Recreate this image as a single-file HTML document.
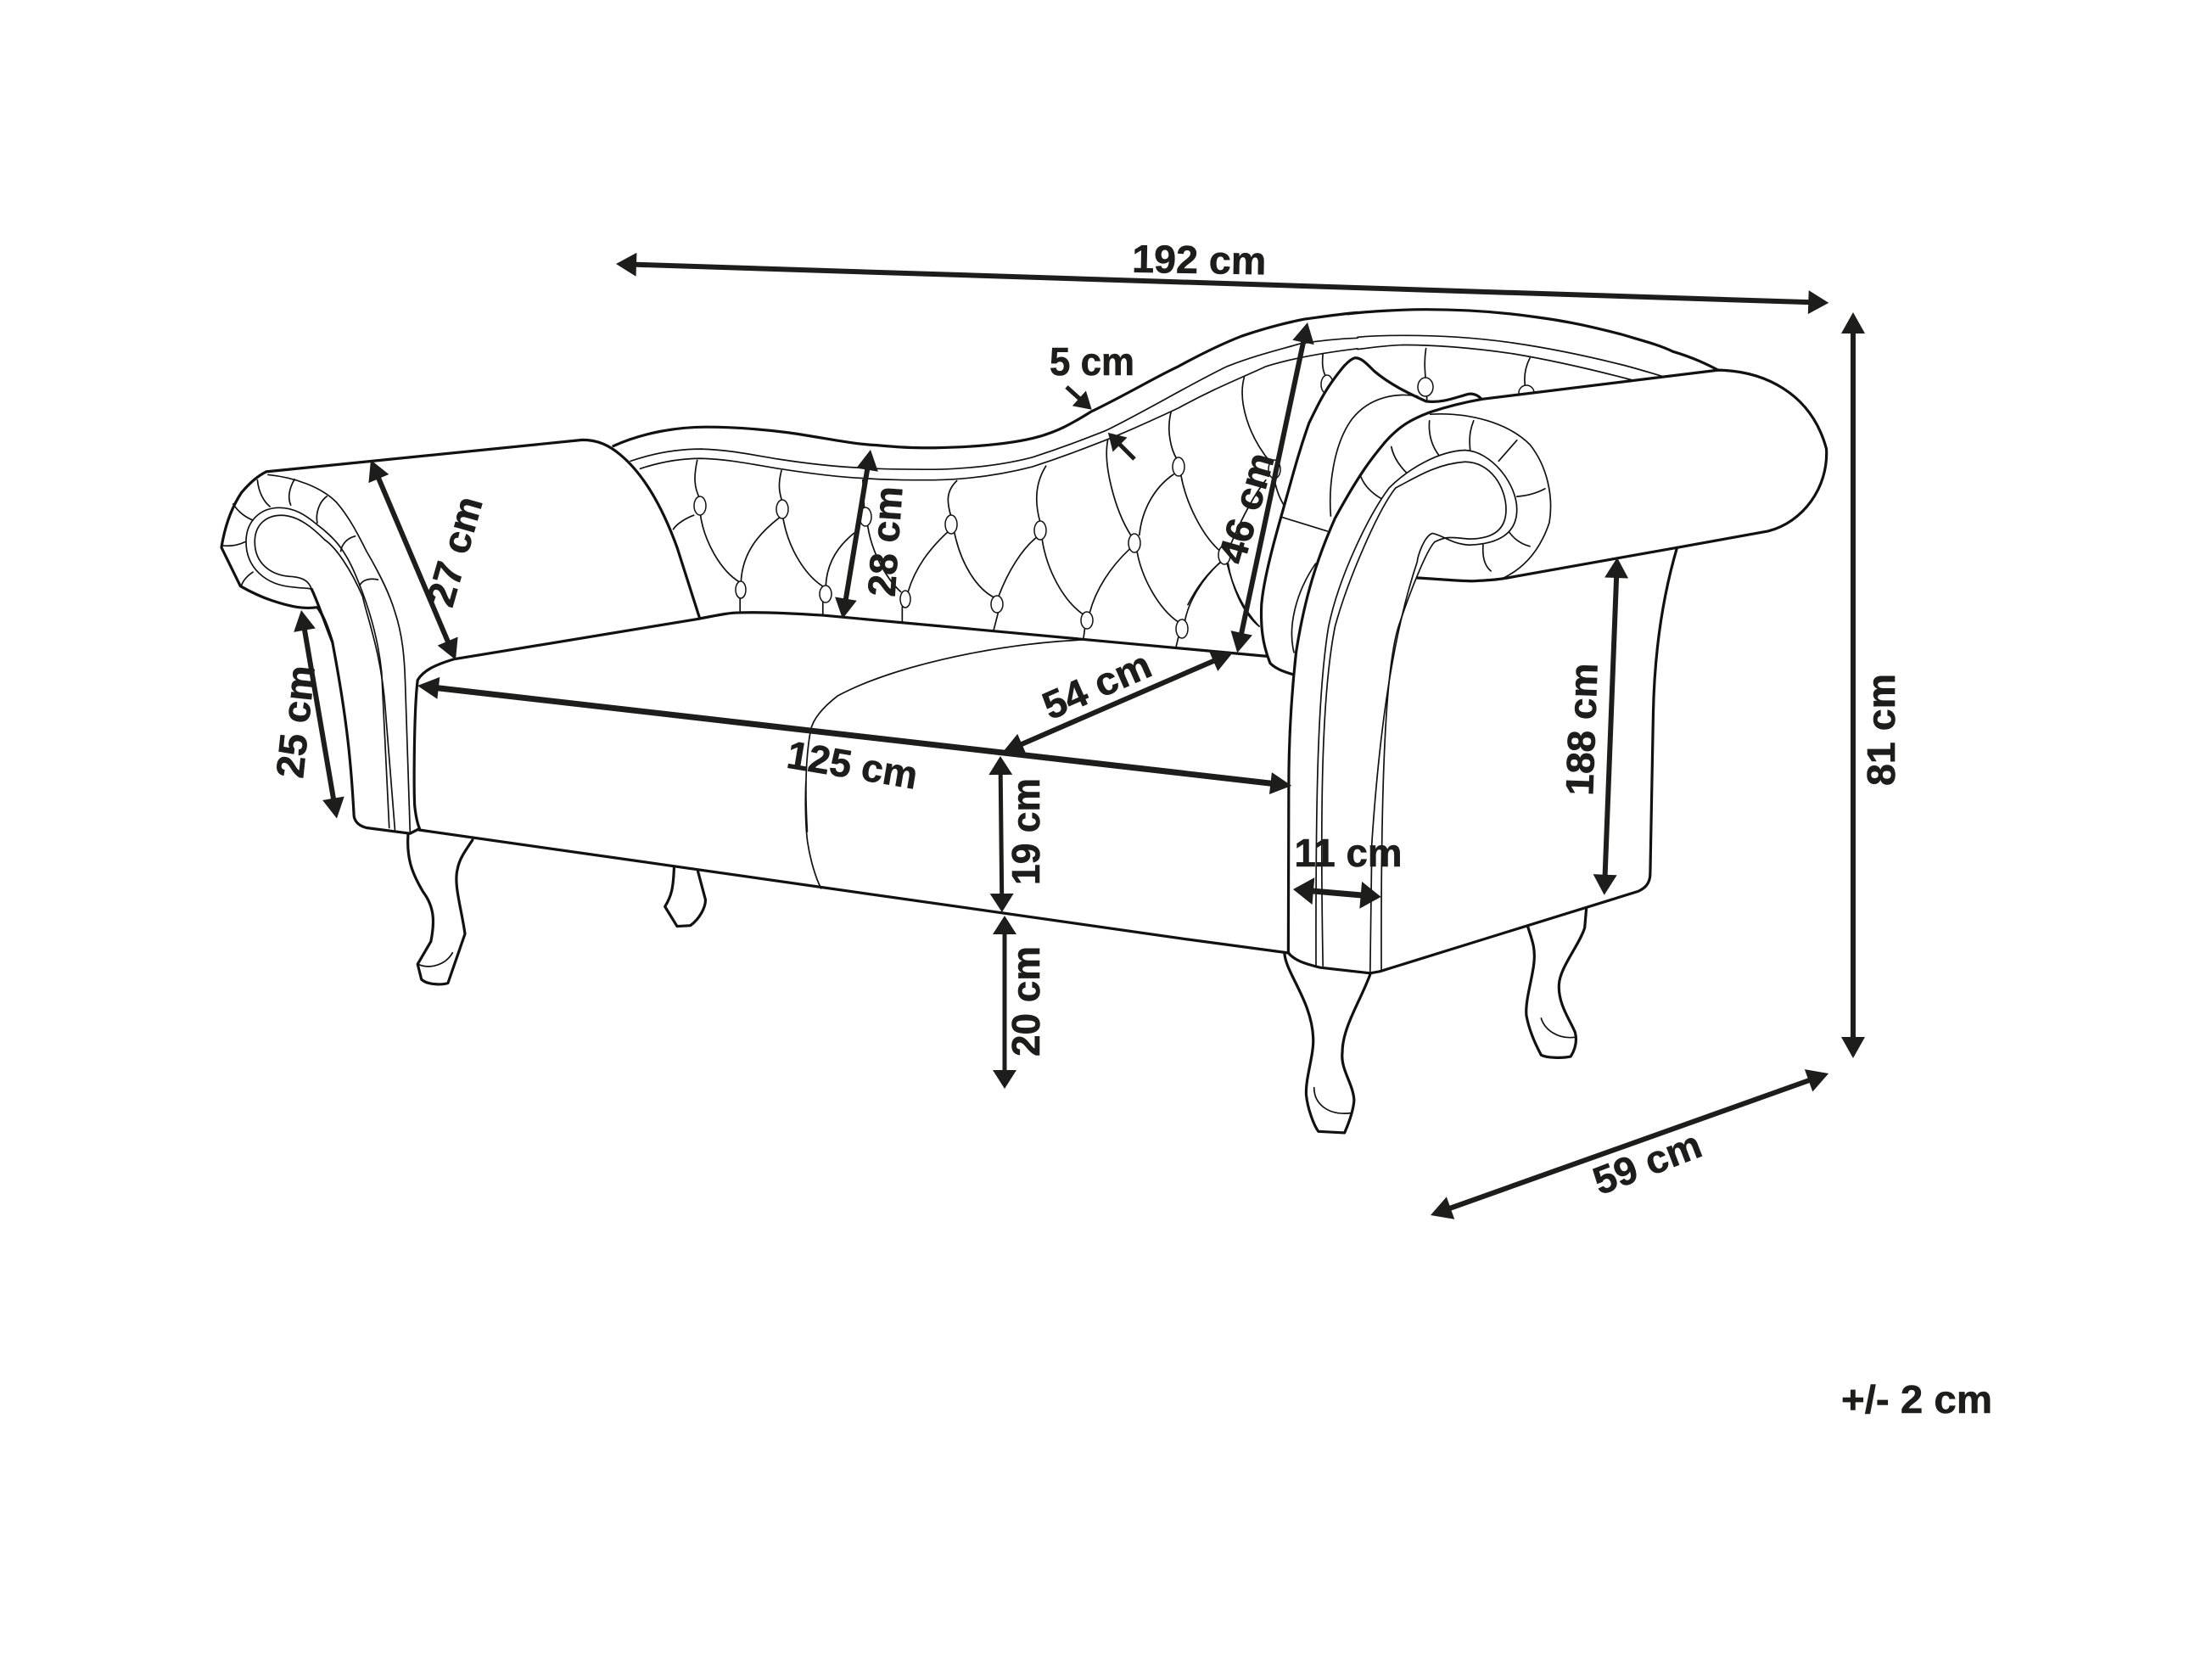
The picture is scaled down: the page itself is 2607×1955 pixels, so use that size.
<!DOCTYPE html>
<html><head><meta charset="utf-8"><style>
html,body{margin:0;padding:0;background:#fff}
svg{display:block}
path,ellipse{vector-effect:non-scaling-stroke;stroke-linejoin:round;stroke-linecap:round}
.m{fill:none;stroke:#111;stroke-width:3.2}
.w{fill:#fff;stroke:#111;stroke-width:3.2}
.t{fill:none;stroke:#111;stroke-width:1.7}
.a{fill:#1d1d1b;stroke:none}
text{font-family:"Liberation Sans",sans-serif;font-weight:700;font-size:46px;fill:#1d1d1b;stroke:#1d1d1b;stroke-width:.6;text-anchor:middle}
</style></head><body>
<svg width="2607" height="1955" viewBox="0 0 2607 1955" xmlns="http://www.w3.org/2000/svg">
<rect width="2607" height="1955" fill="#fff"/>

<!-- legs -->
<g transform="translate(240,480) scale(.4464)">
<path class="w" d="M540 1125C535 1190 550 1230 580 1280C610 1320 610 1360 600 1410L565 1470L575 1510C590 1525 630 1525 645 1520L690 1390C680 1320 660 1260 670 1220C675 1190 695 1165 710 1142"/>
<path class="t" d="M565 1470C600 1485 640 1470 657 1440"/>
<path class="w" d="M1242 1215C1240 1270 1235 1290 1218 1318L1250 1370L1285 1368C1310 1350 1325 1320 1325 1300L1305 1225"/>
</g>
<g transform="translate(1400,950) scale(.5128,.3333)">
<path class="w" d="M222 520C225 590 285 690 288 820C290 880 270 960 272 1020C275 1070 290 1130 300 1150L360 1155C370 1120 380 1080 382 1040C380 980 350 930 355 870C355 780 400 680 420 590"/>
<path class="t" d="M290 995C290 1050 320 1095 375 1085"/>
<path class="w" d="M780 420C790 470 800 500 795 560C790 620 775 690 778 740C785 800 805 860 812 880C825 890 860 892 880 885C890 860 895 830 890 800C880 760 850 700 853 630C855 570 900 490 912 430L916 358"/>
<path class="t" d="M812 750C820 790 850 825 890 817"/>
</g>

<!-- back -->
<g transform="translate(700,280) scale(.574,.4464)">
<path class="m" d="M40 550C100 515 170 500 230 500C290 500 340 505 400 515C480 530 530 545 580 548C640 555 660 555 700 555C780 553 850 545 900 530C950 515 985 488 1020 460C1100 410 1150 370 1200 340C1250 305 1290 280 1330 260C1380 238 1420 225 1460 215C1500 208 1530 202 1568 198"/>
<path class="t" d="M75 590C120 570 170 558 220 558C280 560 330 575 380 585C440 597 500 605 550 608C600 612 650 612 700 612C770 610 840 600 900 580C960 555 1000 535 1050 510C1130 460 1220 390 1300 340C1360 310 1410 295 1450 280C1490 272 1530 267 1568 265"/>
<path class="t" d="M95 610C130 595 170 583 220 583C280 585 330 600 380 610C440 622 500 632 550 635C600 640 650 640 700 640C770 638 840 625 900 605C960 580 1000 560 1050 535C1100 510 1150 480 1200 450C1270 400 1330 370 1380 340C1430 320 1490 305 1568 293"/>
<path class="t" d="M212 588C205 630 205 660 218 690M218 726C225 800 260 880 300 910M205 733C190 740 170 755 163 770M385 615C378 650 380 670 386 695M388 738C400 830 440 900 476 925M380 740C340 780 305 830 302 908M300 952L300 988M470 960L470 995M476 920C478 860 500 810 545 770M555 715L552 640M562 760C570 830 600 900 630 935M633 975L633 1018M645 935C660 870 690 820 728 775M745 642C722 670 725 700 733 735M740 778C755 870 790 930 822 950M830 990L820 1040M830 950C850 880 880 820 910 790M928 603C905 650 905 700 916 750M920 795C930 880 965 960 1005 995M1008 1030L1005 1060M1018 990C1030 930 1060 870 1100 822M1055 535C1045 600 1070 720 1102 785M1115 828C1125 900 1160 980 1200 1015M1120 785C1125 720 1150 660 1190 625M1185 460C1175 510 1185 560 1197 585M1205 625C1215 700 1250 790 1288 830M1285 858C1250 900 1220 960 1213 1015M1300 860C1315 940 1340 990 1365 1025M1200 1055L1195 1082"/>
<path class="m" d="M220 1005C260 995 280 990 300 990C350 988 420 993 470 997L1000 1060L1380 1105"/>
<path class="t" d="M1000 1062C800 1075 600 1140 500 1210C470 1240 450 1270 445 1300C435 1370 433 1450 438 1568"/>
</g>
<g transform="translate(400,780) scale(.6378,.3534)">
<path class="t" d="M862 400C860 480 862 560 865 600C870 660 880 720 890 755"/>
</g>
<g transform="translate(1400,330) scale(.5102)">
<path class="m" d="M370 78C420 72 500 68 550 68C640 68 730 75 800 85C880 95 940 110 1000 125C1050 140 1090 150 1120 165C1170 180 1200 195 1225 208"/>
<path class="t" d="M392 132C430 128 470 128 500 128C590 128 680 135 750 145C840 158 920 175 1000 195C1040 205 1070 215 1095 222"/>
<path class="t" d="M392 160C430 155 470 150 500 150C590 150 680 160 750 170C840 185 940 208 1030 232"/>
<path class="t" d="M130 225C115 280 140 360 190 420M200 460C205 490 215 510 225 525M180 462C150 500 120 560 95 620M78 650C40 680 15 720 0 750M93 655C100 700 125 770 165 800M312 170C310 190 310 210 320 225M550 158C545 190 548 210 549 228M552 267L552 280M790 180C780 200 775 225 780 250"/>
</g>
<g fill="#fff" stroke="#111" stroke-width="1.5">
<ellipse cx="825" cy="596" rx="7" ry="11"/><ellipse cx="922" cy="600" rx="7" ry="11"/><ellipse cx="1020" cy="609" rx="7" ry="11"/><ellipse cx="1121" cy="618" rx="7" ry="11"/><ellipse cx="1226" cy="625" rx="7" ry="11"/><ellipse cx="1389" cy="550" rx="7" ry="11"/><ellipse cx="1337" cy="640" rx="7" ry="11"/><ellipse cx="1502" cy="553" rx="7" ry="11"/><ellipse cx="1443" cy="654" rx="7" ry="11"/><ellipse cx="1564" cy="453" rx="7" ry="11"/><ellipse cx="873" cy="695" rx="6" ry="10"/><ellipse cx="973" cy="700" rx="7" ry="10"/><ellipse cx="1067" cy="706" rx="6" ry="10"/><ellipse cx="1175" cy="712" rx="7" ry="10"/><ellipse cx="1281" cy="731" rx="7" ry="10"/><ellipse cx="1393" cy="741" rx="7" ry="11"/><ellipse cx="1680" cy="456" rx="9" ry="11"/><ellipse cx="1799" cy="463" rx="9" ry="9"/>
</g>

<!-- pillow + right arm -->
<g transform="translate(1400,330) scale(.5102)">
<path class="w" d="M680 278C675 270 665 262 650 263C620 270 590 285 550 280C510 262 465 240 430 210C415 195 400 178 385 180C370 185 355 205 340 225C310 265 295 300 280 330C255 400 240 460 220 530C200 600 175 690 170 750C168 800 172 840 190 885C205 900 225 905 245 912"/>
<path class="t" d="M530 268C480 260 420 270 380 320C335 380 325 480 330 545M218 548L322 580M295 655C250 720 230 800 245 860"/>
<path class="w" d="M1225 208C1330 210 1440 260 1475 390C1480 480 1420 560 1340 580L1130 618C1100 720 1078 850 1075 1000L1068 1370C1068 1395 1055 1405 1040 1412L443 1597L421 1601L306 1588C265 1578 245 1570 232 1554L233 1170C233 1050 240 950 250 860C270 730 300 640 340 550C400 440 430 405 455 375C490 335 520 320 560 305C600 292 640 282 680 275Z"/>
<path class="m" d="M530 688C600 692 650 697 665 695C700 693 720 692 760 684L1130 618"/>
<path class="t" d="M560 310C650 305 740 330 790 380C830 430 845 500 835 560C815 620 780 665 725 690"/>
<path class="t" d="M640 393C700 395 760 470 760 530C760 590 710 610 650 612C610 610 590 590 565 585C545 592 530 640 530 650C480 800 445 1000 425 1300L421 1600"/>
<path class="t" d="M640 393C580 395 510 435 465 480C420 540 350 680 325 800C300 950 295 1200 296 1584"/>
<path class="t" d="M640 420C700 420 735 480 735 530C735 580 700 598 650 598C610 595 600 590 570 605C550 625 510 730 490 790C460 870 445 1100 447 1597"/>
<path class="t" d="M640 420C570 425 520 460 480 480C440 530 370 690 340 800C310 950 305 1200 312 1584"/>
<path class="t" d="M400 455C410 480 430 495 447 505M470 385C475 410 490 430 505 445M558 325C555 360 565 385 580 405M660 325C650 350 650 370 652 393M760 370L718 418M825 482C810 490 790 498 760 500M790 615C770 610 755 600 742 582M682 612C680 640 685 660 700 672"/>
</g>

<!-- left arm + rail -->
<path class="m" d="M494 978L1400 1107L1519 1123"/>
<g transform="translate(240,480) scale(.4464)">
<path class="w" d="M165 170L1000 86C1040 86 1070 100 1100 125C1160 175 1210 260 1250 370C1275 450 1295 510 1310 558L660 665C610 680 580 695 565 720C555 800 555 1000 557 1050C560 1080 565 1100 570 1112L545 1125L430 1110C410 1105 400 1095 397 1080C390 950 380 830 340 620C325 570 310 540 300 528C270 532 240 530 180 510C150 500 120 485 97 472L47 370C55 320 70 270 100 225C125 195 145 180 165 170Z"/>
<path class="t" d="M170 178C240 185 310 210 350 250C385 290 410 340 430 380C465 440 490 490 505 540C525 600 530 660 532 720L545 1120"/>
<path class="t" d="M490 1110L470 700C460 600 430 510 400 440C370 370 340 340 300 310C270 285 240 265 200 265C150 265 112 300 112 355C112 420 160 470 240 475C260 478 275 476 285 480"/>
<path class="t" d="M505 1115L480 800C470 650 430 550 420 500C390 430 350 370 320 350C290 320 250 285 205 285C165 285 135 310 135 355C135 410 175 445 235 447C265 450 278 460 285 480"/>
<path class="m" d="M285 480C300 510 320 570 340 620"/>
<path class="t" d="M142 192C145 225 160 250 175 262M240 190C225 215 222 240 230 258M325 235C305 250 295 280 300 305M400 340C380 345 365 360 362 380M460 455C440 450 420 455 412 470M78 255C90 275 110 290 130 298M50 365C75 368 95 362 110 355M130 435C115 445 105 455 100 470"/>
</g>

<!-- arrows -->
<g class="a">
<g transform="translate(726 311) rotate(1.84)"><path d="M0 0L24 -14V-3H1406V-14L1430 0L1406 14V3H24V14Z"/></g>
<g transform="translate(2184 368) rotate(90)"><path d="M0 0L25 -14V-3H854V-14L879 0L854 14V3H25V14Z"/></g>
<g transform="translate(1686 1432) rotate(-19.6)"><path d="M0 0L25 -14V-3H473V-14L498 0L473 14V3H25V14Z"/></g>
<g transform="translate(492 808) rotate(6.53)"><path d="M0 0L25 -13V-3.5H1012V-13L1037 0L1012 13V3.5H25V13Z"/></g>
<g transform="translate(1453 769) rotate(156.55)"><path d="M0 0L25 -13V-3H271V-13L296 0L271 13V3H25V13Z"/></g>
<g transform="translate(1179 891) rotate(89.4)"><path d="M0 0L22 -14V-2.5H162V-14L184 0L162 14V2.5H22V14Z"/></g>
<g transform="translate(1184 1079) rotate(90)"><path d="M0 0L22 -14V-2.5H182V-14L204 0L182 14V2.5H22V14Z"/></g>
<g transform="translate(1026 530) rotate(99.4)"><path d="M0 0L24 -13V-3H178V-13L202 0L178 13V3H24V13Z"/></g>
<g transform="translate(1541 380) rotate(102)"><path d="M0 0L24 -13V-3H374V-13L398 0L374 13V3H24V13Z"/></g>
<g transform="translate(437 542) rotate(67)"><path d="M0 0L24 -13V-3H232V-13L256 0L232 13V3H24V13Z"/></g>
<g transform="translate(355 719) rotate(80.3)"><path d="M0 0L24 -13V-3H225V-13L249 0L225 13V3H24V13Z"/></g>
<g transform="translate(1906 657) rotate(92.2)"><path d="M0 0L24 -14V-3H374V-14L398 0L374 14V3H24V14Z"/></g>
<g transform="translate(1524 1048) rotate(4.9)"><path d="M0 0L24 -16V-3.5H80V-16L104 0L80 16V3.5H24V16Z"/></g>
<g transform="translate(1257 456) rotate(42)"><path d="M0 -2.5H20V-12L40 0L20 12V2.5H0Z"/></g>
<g transform="translate(1337 541) rotate(-135)"><path d="M0 -2.5H24V-12L44 0L24 12V2.5H0Z"/></g>
</g>

<!-- labels -->
<text transform="translate(1413 322) rotate(1)" textLength="158" lengthAdjust="spacingAndGlyphs">192 cm</text>
<text transform="translate(1287 442)" textLength="100" lengthAdjust="spacingAndGlyphs">5 cm</text>
<text transform="translate(1059 639) rotate(-86)" textLength="130" lengthAdjust="spacingAndGlyphs">28 cm</text>
<text transform="translate(1484 603) rotate(-74)" textLength="133" lengthAdjust="spacingAndGlyphs">46 cm</text>
<text transform="translate(1299 822) rotate(-23.7)" textLength="134" lengthAdjust="spacingAndGlyphs">54 cm</text>
<text transform="translate(1002 917) rotate(9.5)" textLength="155" lengthAdjust="spacingAndGlyphs">125 cm</text>
<text transform="translate(1225 980) rotate(-90)" textLength="126" lengthAdjust="spacingAndGlyphs">19 cm</text>
<text transform="translate(1225 1180) rotate(-90)" textLength="130" lengthAdjust="spacingAndGlyphs">20 cm</text>
<text transform="translate(1947 1385) rotate(-21)" textLength="132" lengthAdjust="spacingAndGlyphs">59 cm</text>
<text transform="translate(1589 1021)" textLength="127" lengthAdjust="spacingAndGlyphs">11 cm</text>
<text transform="translate(1880 860) rotate(-88)" textLength="156" lengthAdjust="spacingAndGlyphs">188 cm</text>
<text transform="translate(364 852) rotate(-84)" textLength="133" lengthAdjust="spacingAndGlyphs">25 cm</text>
<text transform="translate(551 654) rotate(-74)" textLength="132" lengthAdjust="spacingAndGlyphs">27 cm</text>
<text transform="translate(2233 860) rotate(-90)" textLength="132" lengthAdjust="spacingAndGlyphs">81 cm</text>
<text x="2259" y="1665" textLength="178" lengthAdjust="spacingAndGlyphs">+/- 2 cm</text>
</svg>
</body></html>
